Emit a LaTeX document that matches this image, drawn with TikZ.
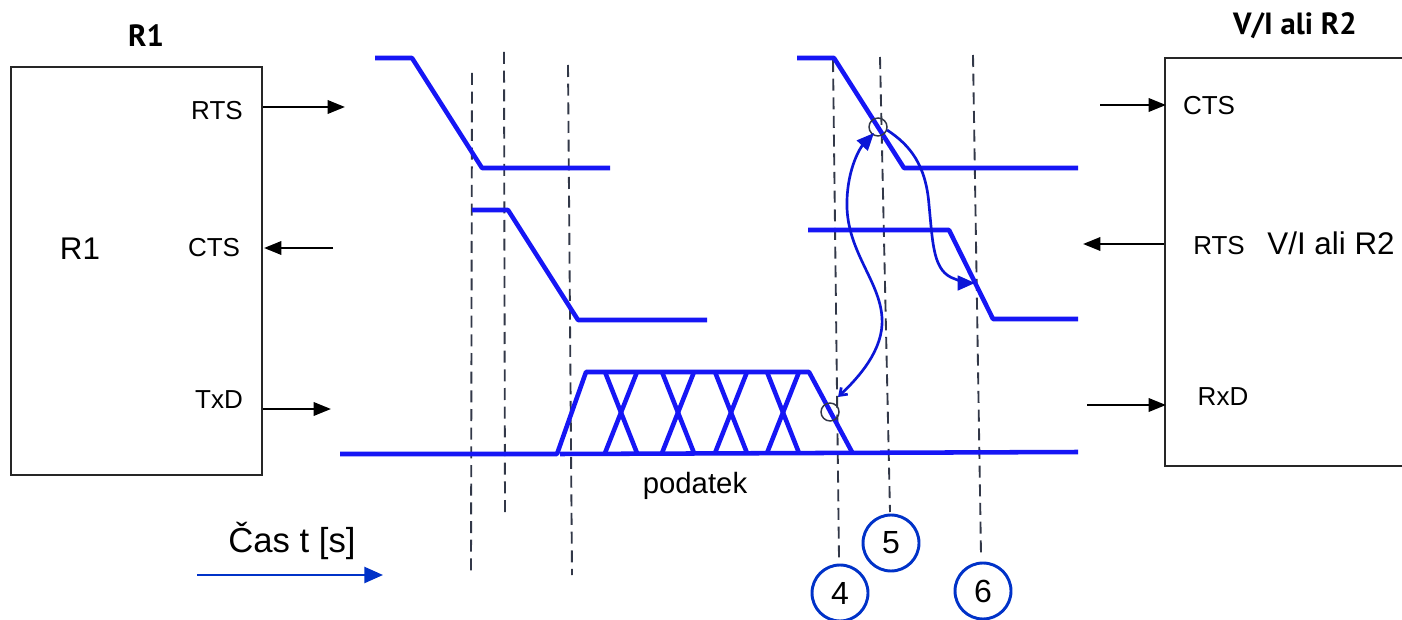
\documentclass[tikz,border=0pt]{standalone}
\usepackage{fontspec}
\setmainfont{Liberation Sans}
\newfontfamily\titlefont{PT Sans}
\usetikzlibrary{arrows.meta}
\definecolor{sig}{RGB}{22,22,245}
\definecolor{crv}{RGB}{12,22,215}
\definecolor{cblue}{RGB}{0,50,200}
\definecolor{dgray}{RGB}{50,56,72}
\tikzset{
  sigline/.style={sig, line width=3.4pt, line join=round},
  dashln/.style={dgray, line width=1.4pt, dash pattern=on 9pt off 5pt},
  boxst/.style={black!85, line width=1.4pt},
  blk/.style={line width=1.8pt, -{Triangle[length=13pt,width=10pt]}},
  lbl/.style={inner sep=0pt, anchor=base, font=\fontsize{19.5pt}{20pt}\selectfont},
  big/.style={inner sep=0pt, anchor=base, font=\fontsize{23.5pt}{25pt}\selectfont},
  ttl/.style={inner sep=0pt, anchor=base, font=\titlefont\bfseries\fontsize{23pt}{25pt}\selectfont},
  numc/.style={circle, draw=cblue, line width=2.2pt, minimum size=42pt, inner sep=0pt, font=\fontsize{24pt}{26pt}\selectfont},
  crvarrow/.style={crv, line width=2pt},
  mark0/.style={circle, draw=dgray, line width=1.1pt, minimum size=13.5pt, inner sep=0pt}
}
\begin{document}
\begin{tikzpicture}[x=0.75pt,y=-0.75pt]
\useasboundingbox (0,0) rectangle (1402,620);
\clip (0,0) rectangle (1402,620);
\fill[white] (0,0) rectangle (1402,620);

% boxes
\draw[boxst] (11,67) rectangle (262,475);
\draw[boxst] (1165,58) rectangle (1430,466);

% titles and labels
\node[ttl] (t1) at (146,47) {R1};
\node[ttl] (t2) at (1295,35) {V/I ali R2};
\node[big] (r1) at (80,260) {R1};
\node[lbl] (lrts) at (217,120) {RTS};
\node[lbl] (lcts) at (214,257) {CTS};
\node[lbl] (ltxd) at (219,408) {TxD};
\node[lbl] (rcts) at (1209,115) {CTS};
\node[lbl] (rrts) at (1219,255) {RTS};
\node[big] (rname) at (1331,255) {V/I ali R2};
\node[lbl] (rrxd) at (1223,405) {RxD};
\node[big, font=\fontsize{22pt}{24pt}\selectfont] (pod) at (695,493) {podatek};
\node[inner sep=0pt, anchor=base, font=\fontsize{26pt}{28pt}\selectfont] (cas) at (292,552) {Čas t [s]};

% black arrows
\coordinate (a1s) at (263,107); \coordinate (a1e) at (345,107);
\coordinate (a2s) at (333,248); \coordinate (a2e) at (264,248);
\coordinate (a3s) at (263,409); \coordinate (a3e) at (331,409);
\coordinate (a4s) at (1100,105); \coordinate (a4e) at (1166,105);
\coordinate (a5s) at (1164,244); \coordinate (a5e) at (1083,244);
\coordinate (a6s) at (1087,405); \coordinate (a6e) at (1166,405);
\draw[blk] (a1s) -- (a1e);
\draw[blk] (a2s) -- (a2e);
\draw[blk] (a3s) -- (a3e);
\draw[blk] (a4s) -- (a4e);
\draw[blk] (a5s) -- (a5e);
\draw[blk] (a6s) -- (a6e);

% time arrow
\coordinate (ts) at (197,575); \coordinate (te) at (383,575);
\draw[cblue, line width=1.8pt, -{Triangle[length=14pt,width=12pt]}] (ts) -- (te);

% dashed lines
\coordinate (d1a) at (472,73);  \coordinate (d1b) at (471,575);
\coordinate (d2a) at (504,52);  \coordinate (d2b) at (505,517);
\coordinate (d3a) at (568,65);  \coordinate (d3b) at (572,575);
\coordinate (d4a) at (833,60);  \coordinate (d4b) at (839,558);
\coordinate (d5a) at (880,57);  \coordinate (d5b) at (890,512);
\coordinate (d6a) at (973,55);  \coordinate (d6b) at (981,555);
\foreach \i in {1,...,6} \draw[dashln] (d\i a) -- (d\i b);

% signals
\draw[sigline] (375,58) -- (412,58) -- (482,168) -- (610,168);
\draw[sigline] (472,210) -- (508,210) -- (578,320) -- (707,320);
\draw[sigline] (340,454) -- (557,454) -- (586,372) -- (809,372) -- (852,452);
\draw[sigline] (560,454) -- (1078,452);
\foreach \x in {605,662,715,767} {
  \draw[sigline] (\x,372) -- ({\x+32},453);
  \draw[sigline] ({\x+32},372) -- (\x,453);
}
\draw[sigline] (797,58) -- (834,58) -- (904,168) -- (1078,168);
\draw[sigline] (808,230) -- (949,230) -- (993,319) -- (1078,319);

% marks
\node[mark0] (m1) at (878,127) {};
\node[mark0] (m2) at (830,412) {};

% curved arrows
\draw[crvarrow, {Straight Barb[length=5pt,width=7pt]}-{Triangle[length=13pt,width=11pt]}]
  (838,397) .. controls (858,378) and (884,350) .. (882,318)
  .. controls (880,280) and (845,250) .. (847,200)
  .. controls (848,168) and (860,148) .. (874,133);
\draw[crvarrow, -{Triangle[length=13pt,width=11pt]}]
  (887,130) .. controls (910,145) and (926,165) .. (929,205)
  .. controls (933,245) and (933,272) .. (955,279)
  .. controls (962,282) and (968,283) .. (975,283);

% numbered circles
\node[numc] (n4) at (840,593) {4};
\node[numc] (n5) at (891,543) {5};
\node[numc] (n6) at (983,591) {6};
\end{tikzpicture}
\end{document}
